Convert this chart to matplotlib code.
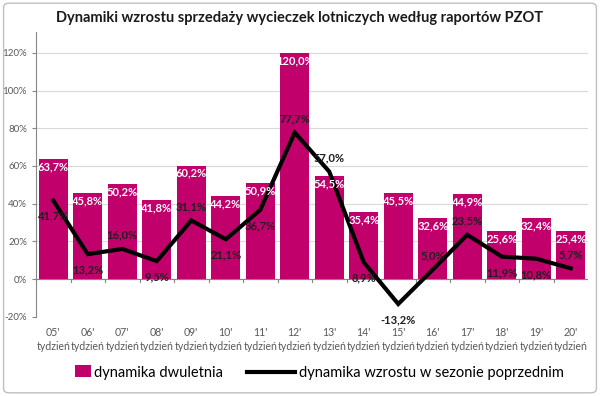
import matplotlib
matplotlib.use("Agg")
import matplotlib.pyplot as plt
from matplotlib.patches import FancyBboxPatch, Patch, Rectangle
from matplotlib.legend_handler import HandlerPatch
from matplotlib.lines import Line2D
import numpy as np

plt.rcParams["font.family"] = ["Lato", "DejaVu Sans"]

weeks = ["05'", "06'", "07'", "08'", "09'", "10'", "11'", "12'",
         "13'", "14'", "15'", "16'", "17'", "18'", "19'", "20'"]
two_year = [63.7, 45.8, 50.2, 41.8, 60.2, 44.2, 50.9, 120.0,
            54.5, 35.4, 45.5, 32.6, 44.9, 25.6, 32.4, 25.4]
prev_season = [41.7, 13.2, 16.0, 9.5, 31.1, 21.1, 36.7, 77.7,
               57.0, 8.9, -13.2, 5.0, 23.5, 11.9, 10.8, 5.7]
# label side for the line values: +1 above, -1 below
line_label_side = [-1, -1, 1, -1, 1, -1, -1, 1, 1, -1, -1, 1, 1, -1, -1, 1]

bar_color = "#C2006B"
grid_color = "#D9D9D9"
text_gray = "#595959"


def pct(v):
    return f"{v:.1f}%".replace(".", ",")


def small_square(legend, orig_handle, xdescent, ydescent, width, height, fontsize):
    # narrow swatch at the right end of the handle box, like Excel
    w = height * 1.5
    return Rectangle((width - w - xdescent, -ydescent), w, height * 1.2)


fig = plt.figure(figsize=(6.0, 3.96), dpi=100)
fig.patches.append(FancyBboxPatch((0.006, 0.008), 0.988, 0.984,
                                  boxstyle="round,pad=0,rounding_size=0.01",
                                  transform=fig.transFigure, fill=False,
                                  edgecolor="#BFBFBF", linewidth=1.0))
ax = fig.add_axes([0.06, 0.2, 0.92, 0.719])

x = np.arange(len(weeks))
ax.bar(x, two_year, width=0.85, color=bar_color, zorder=2)
ax.plot(x, prev_season, color="black", linewidth=3, zorder=3,
        solid_joinstyle="miter")

for xi, v in zip(x, two_year):
    ax.text(xi, v - 1.2, pct(v), ha="center", va="top", color="white",
            fontsize=8, fontweight="bold", zorder=4)

for xi, v, s in zip(x, prev_season, line_label_side):
    off = 4.5 if s > 0 else -5.5
    ax.text(xi, v + off, pct(v), ha="center",
            va="bottom" if s > 0 else "top", color="#1E1E1E",
            fontsize=8, fontweight="bold", zorder=4)

ax.set_xlim(-0.5, len(weeks) - 0.5)
ax.set_ylim(-20, 131)
ax.set_yticks(np.arange(-20, 121, 20))
ax.set_yticklabels([f"{t}%" for t in range(-20, 121, 20)])
ax.yaxis.grid(True, color=grid_color, linewidth=0.8, zorder=0)
ax.set_axisbelow(True)

ax.set_xticks(x)
ax.set_xticklabels([f"{w}\ntydzień" for w in weeks], linespacing=1.35)
ax.tick_params(axis="x", length=0, pad=7, labelsize=7.6, colors=text_gray)
ax.tick_params(axis="y", length=3, labelsize=7, colors="#868686",
               labelcolor=text_gray)

for side in ["top", "right", "bottom"]:
    ax.spines[side].set_visible(False)
ax.spines["left"].set_color("#868686")

# category axis at zero with ticks between categories
ax.axhline(0, color="#868686", linewidth=0.8, zorder=1)
for b in np.arange(-0.5, len(weeks), 1.0):
    ax.plot([b, b], [0, -1.8], color="#868686", linewidth=0.8, zorder=1)

fig.text(0.5, 0.955, "Dynamiki wzrostu sprzedaży wycieczek lotniczych według raportów PZOT",
         ha="center", va="center", fontsize=10.5, fontweight="bold", color="#1A1A1A")

swatch = Patch(facecolor=bar_color, edgecolor="none")
handles = [swatch, Line2D([0], [0], color="black", linewidth=3)]
fig.legend(handles, ["dynamika dwuletnia", "dynamika wzrostu w sezonie poprzednim"],
           loc="center", bbox_to_anchor=(0.505, 0.058), ncol=2, frameon=False,
           fontsize=10.5, handlelength=3.3, handletextpad=0.25, columnspacing=1.6,
           handler_map={swatch: HandlerPatch(patch_func=small_square)})

fig.savefig("out.png", dpi=100)
